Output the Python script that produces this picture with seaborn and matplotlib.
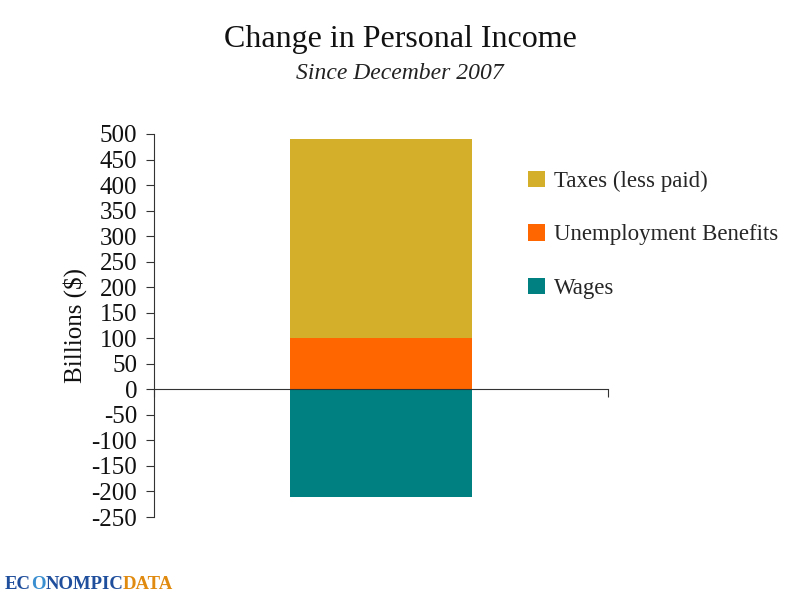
import matplotlib
matplotlib.use('Agg')
import matplotlib.pyplot as plt
import seaborn as sns
import pandas as pd
from matplotlib.patches import Patch

# values (billions of dollars, change since Dec 2007)
components = ['Taxes (less paid)', 'Unemployment Benefits', 'Wages']
change = [390, 100, -210]
colors = ['#D4AF29', '#FF6600', '#008080']
yticks = list(range(-250, 501, 50))

sns.set_theme(style='white')
plt.rcParams['font.family'] = ['Liberation Serif', 'DejaVu Serif']

# positive parts are stacked (benefits under taxes), wages go below zero
df = pd.DataFrame({'cat': ['all'] * 3, 'component': components, 'value': change})
pos_total = df.loc[df['value'] > 0, 'value'].sum()
layers = [pos_total, change[1], change[2]]

fig = plt.figure(figsize=(8, 6), dpi=100)
ax = fig.add_axes([0.1925, 0.1383, 0.5675, 0.6384])

for val, col in zip(layers, colors):
    sns.barplot(x=['all'], y=[val], color=col, width=0.4, ax=ax,
                saturation=1, edgecolor='none', linewidth=0)

ax.set_xlim(-0.5, 0.5)
ax.set_ylim(-250, 500)
ax.set_yticks(yticks)
ax.set_yticklabels([str(t) for t in yticks], fontsize=18, color='#111111')
ax.set_xticks([-0.5, 0.5])
ax.set_xticklabels([])
ax.set_xlabel('')
ax.set_ylabel('Billions ($)', fontsize=18, color='#111111', labelpad=3)

for s in ['top', 'right']:
    ax.spines[s].set_visible(False)
ax.spines['bottom'].set_position(('data', 0))
ax.spines['bottom'].set_color('#333333')
ax.spines['left'].set_color('#333333')
ax.spines['bottom'].set_linewidth(0.8)
ax.spines['left'].set_linewidth(0.8)
ax.tick_params(axis='y', direction='out', length=6, width=0.8, color='#333333', left=True, pad=6)
ax.tick_params(axis='x', direction='out', length=6, width=0.8, color='#333333', bottom=True)
ax.set_zorder(1)

handles = [Patch(facecolor=c, edgecolor='none') for c in colors]
fig.legend(handles, components, loc='upper left', bbox_to_anchor=(0.634, 0.75),
           frameon=False, fontsize=16.5, labelspacing=1.4, handlelength=0.75,
           handleheight=0.75, handletextpad=0.4)

fig.text(0.5, 0.922, 'Change in Personal Income', ha='center', fontsize=23, color='#111111')
fig.text(0.5, 0.868, 'Since December 2007', ha='center', fontsize=17, style='italic', color='#222222')

# logo in the lower left corner, pieces chained one after another
logo = [('EC', '#1F4E9C'), ('O', '#3A8FD0'), ('NOMPIC', '#1F4E9C'), ('DATA', '#E08A10')]
prev = fig.text(0.006, 0.018, logo[0][0], fontsize=13.5, weight='bold', color=logo[0][1])
for word, col in logo[1:]:
    prev = ax.annotate(word, xy=(1, 0), xycoords=prev, va='bottom', fontsize=13.5,
                       weight='bold', color=col, annotation_clip=False)

fig.savefig('out.png', dpi=100)
